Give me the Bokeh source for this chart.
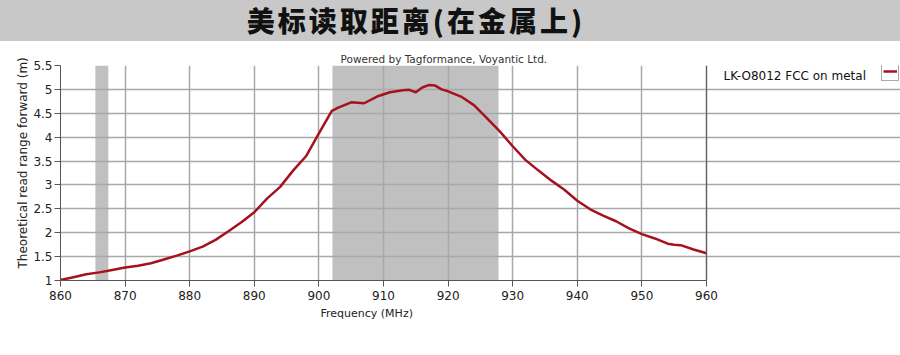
from bokeh.plotting import figure
from bokeh.models import (Range1d, FixedTicker, BoxAnnotation, Legend, LegendItem, Title,
                          Div, Label, Span)
from bokeh.layouts import column
from bokeh.embed import file_html
from bokeh.resources import INLINE

title_text = "美标读取距离(在金属上)"
credit_text = "Powered by Tagformance, Voyantic Ltd."
series_name = "LK-O8012 FCC on metal"
x_title = "Frequency (MHz)"
y_title = "Theoretical read range forward (m)"

freq = [860, 862, 864, 866, 868, 870, 872, 874, 876, 878, 880, 882, 884, 886, 888,
        890, 892, 894, 896, 898, 900, 902, 903, 905, 907, 909, 911, 913, 914, 915,
        916, 917, 918, 919, 920, 922, 924, 926, 928, 930, 932, 934, 936, 938, 940,
        942, 944, 946, 948, 950, 952, 954, 955, 956, 958, 960]
read_range = [1.01, 1.07, 1.13, 1.17, 1.22, 1.27, 1.31, 1.36, 1.44, 1.52, 1.61, 1.71,
              1.85, 2.03, 2.22, 2.43, 2.72, 2.96, 3.30, 3.60, 4.08, 4.55, 4.62, 4.73,
              4.71, 4.85, 4.94, 4.98, 4.99, 4.94, 5.04, 5.09, 5.08, 5.00, 4.96, 4.85,
              4.67, 4.40, 4.12, 3.81, 3.52, 3.30, 3.09, 2.90, 2.67, 2.49, 2.36, 2.24,
              2.09, 1.97, 1.88, 1.77, 1.75, 1.74, 1.65, 1.57]

band_start = [865.4, 902.1]
band_end = [867.4, 927.8]

x_min, x_max = 860, 960
y_min, y_max = 1.0, 5.5
x_ticks = [860, 870, 880, 890, 900, 910, 920, 930, 940, 950, 960]
y_ticks = [1.0, 1.5, 2.0, 2.5, 3.0, 3.5, 4.0, 4.5, 5.0, 5.5]
y_labels = ["1", "1.5", "2", "2.5", "3", "3.5", "4", "4.5", "5", "5.5"]

# pixel layout
FRAME_LEFT, AXIS_RIGHT, FIG_W = 60, 706, 900
# extend the x range so the frame reaches the page edge (room for the legend)
x_view_end = x_max + (FIG_W - AXIS_RIGHT) * (x_max - x_min) / (AXIS_RIGHT - FRAME_LEFT)

# header band (HTML text)
header = Div(
    text=('<div style="box-sizing:border-box;width:900px;height:41px;background:#c8c8c8;'
          'padding-right:68px;text-align:center;font-family:\'Noto Sans CJK SC\';'
          'font-weight:900;font-size:28px;letter-spacing:3px;line-height:41px;'
          'color:#111111;white-space:nowrap;">' + title_text + '</div>'),
    width=900, height=41, margin=(0, 0, 0, 0))

p = figure(width=FIG_W, height=314, x_range=Range1d(x_min, x_view_end),
           y_range=Range1d(y_min, y_max),
           output_backend="svg", toolbar_location=None,
           min_border_left=FRAME_LEFT, min_border_right=0, min_border_top=24,
           min_border_bottom=75)
p.background_fill_color = "white"
p.border_fill_color = "white"
p.outline_line_color = None

for s, e in zip(band_start, band_end):
    p.add_layout(BoxAnnotation(left=s, right=e, fill_color="#c0c0c0", fill_alpha=1.0,
                               line_color=None, level="image"))

r = p.line(freq, read_range, line_color="#a5121d", line_width=2.5)

p.xaxis.ticker = FixedTicker(ticks=x_ticks)
p.yaxis.ticker = FixedTicker(ticks=y_ticks)
p.xgrid.ticker = FixedTicker(ticks=x_ticks)
p.ygrid.ticker = FixedTicker(ticks=y_ticks)
p.ygrid.bounds = (x_min, x_max)
p.xaxis.bounds = (x_min, x_max)
p.yaxis.major_label_overrides = dict(zip(y_ticks, y_labels))
p.grid.grid_line_color = "#a8a8a8"
p.grid.grid_line_width = 1.5

# right frame border of the plotting area
p.add_layout(Span(location=x_max, dimension="height", line_color="#606060", line_width=1.2))

for ax in (p.xaxis[0], p.yaxis[0]):
    ax.axis_line_color = "#555555"
    ax.major_tick_line_color = "#555555"
    ax.minor_tick_line_color = None
    ax.major_tick_out = 6
    ax.major_tick_in = 0
    ax.major_label_text_font = "DejaVu Sans"
    ax.major_label_text_font_size = "12px"
    ax.major_label_text_color = "#222222"

p.xaxis.major_label_standoff = 4
p.yaxis.major_label_standoff = 2

# axis titles placed to match the original (not centred on the extended frame)
p.add_layout(Title(text=x_title, align="left", offset=260, standoff=4,
                   text_font="DejaVu Sans", text_font_size="11px",
                   text_font_style="normal", text_color="#222222"), "below")
p.add_layout(Title(text=y_title, align="left", offset=12, standoff=2,
                   text_font="DejaVu Sans", text_font_size="12px",
                   text_font_style="normal", text_color="#222222"), "left")

p.add_layout(Title(text=credit_text, align="left", offset=280, standoff=1,
                   text_font="DejaVu Sans", text_font_size="10.5px",
                   text_font_style="normal", text_color="#333333"), "above")

# legend text and swatch (swatch sits to the right of the text)
p.add_layout(Label(x=663, y=205, x_units="screen", y_units="screen", text=series_name,
                   text_align="left", text_baseline="middle", text_font="DejaVu Sans",
                   text_font_size="12px", text_color="#111111"))
legend_box = Legend(items=[LegendItem(label=" ", renderers=[r])], location=(821, 199),
                    glyph_width=14, glyph_height=16, label_width=0, label_standoff=0,
                    label_height=16, label_text_font_size="1px", padding=1, margin=0,
                    spacing=0, border_line_color="#555555", background_fill_color="white",
                    background_fill_alpha=1.0)
p.add_layout(legend_box)

layout = column(header, p, spacing=0)
open("out.html", "w").write(file_html(layout, INLINE))
